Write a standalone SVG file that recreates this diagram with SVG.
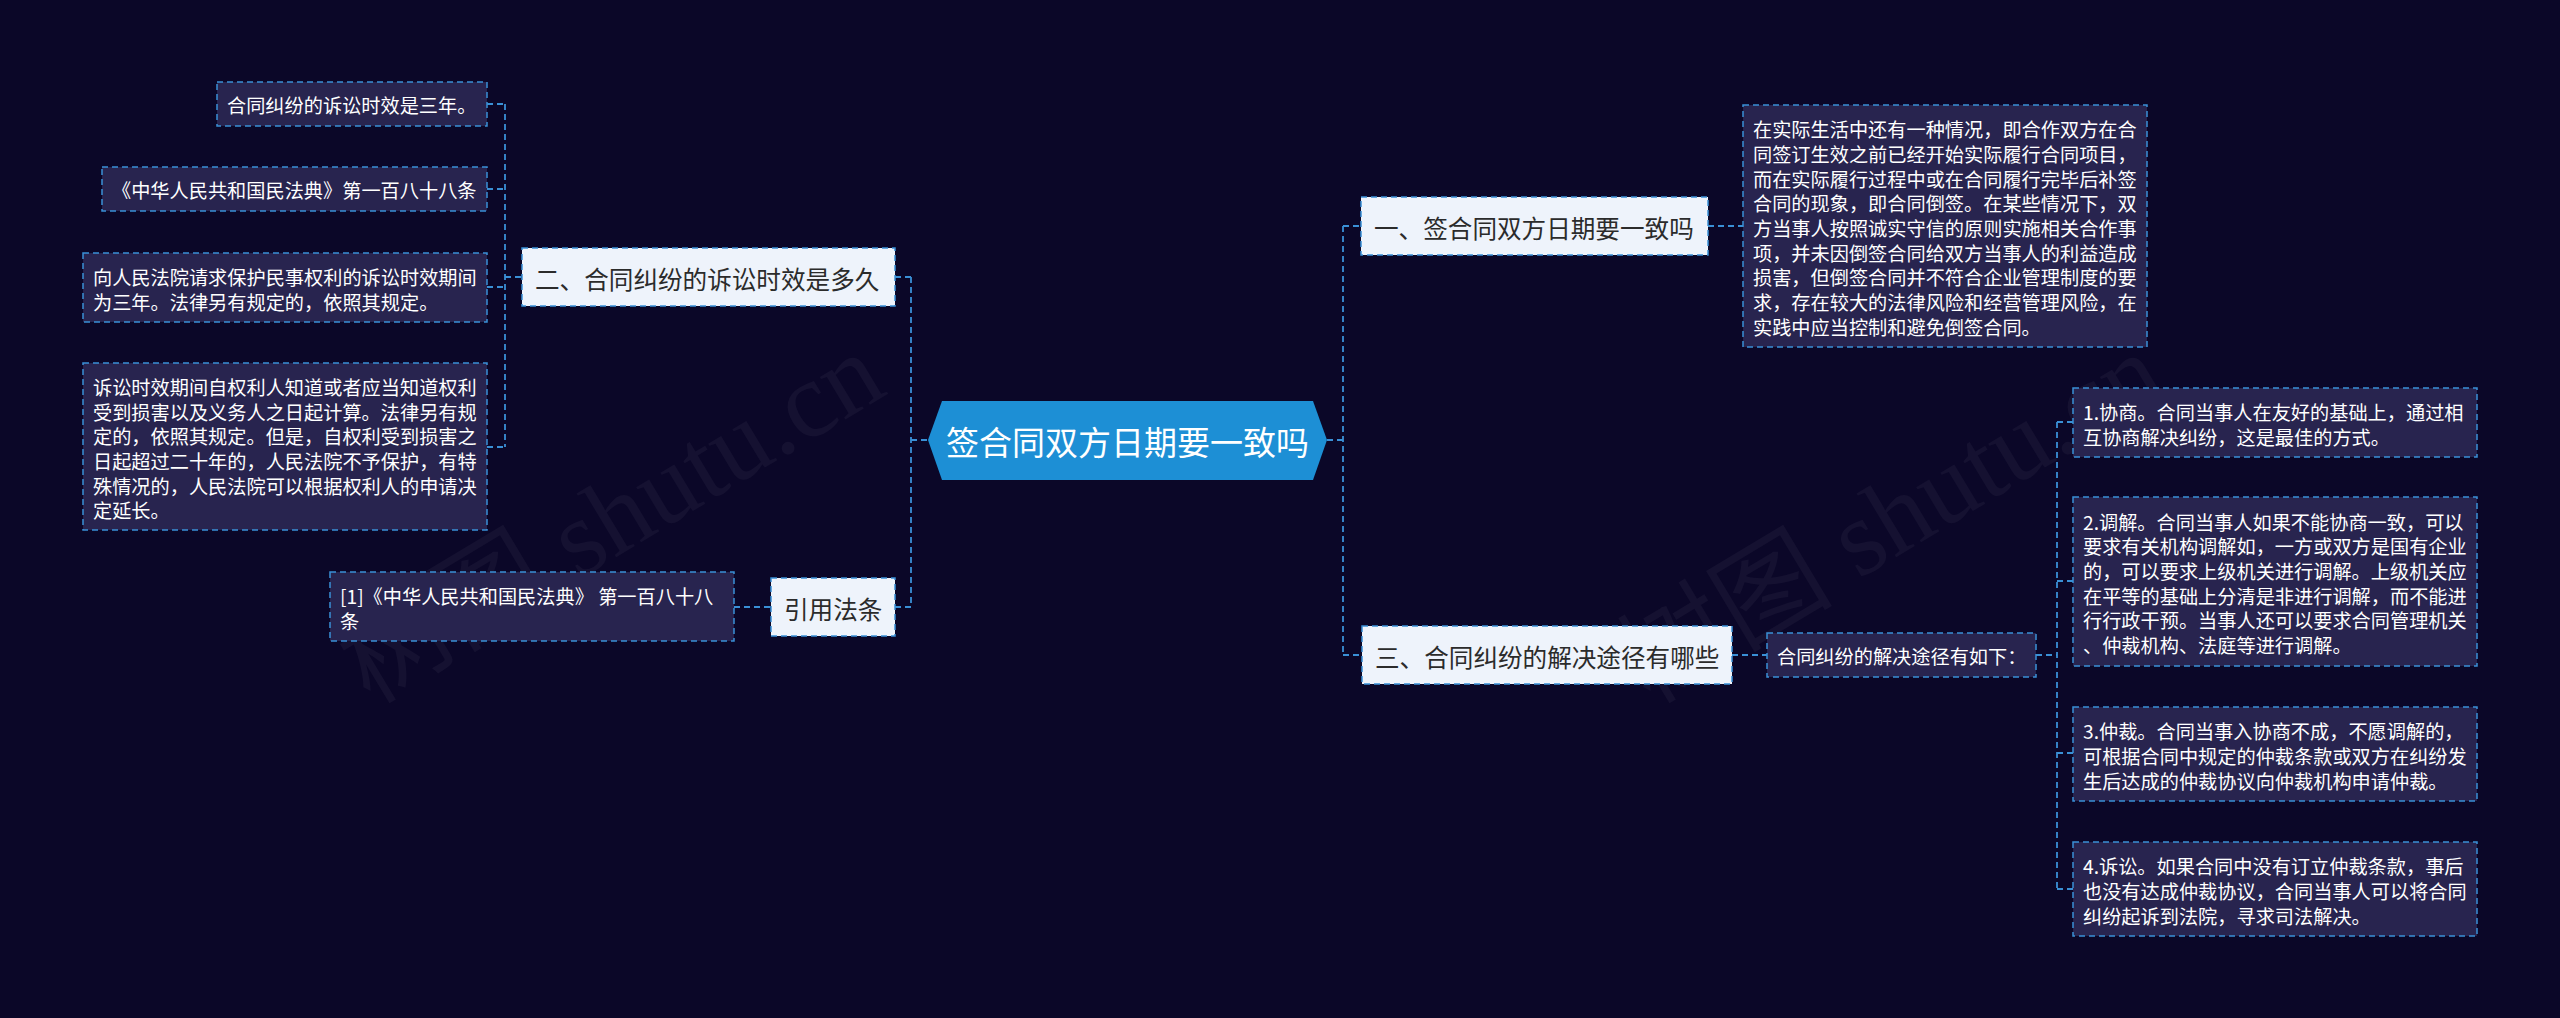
<svg xmlns="http://www.w3.org/2000/svg" width="2560" height="1018" viewBox="0 0 2560 1018">
<style>
.bg{fill:#0b0728}
.wm{font-family:"Liberation Serif","Noto Sans CJK SC",serif;font-size:108px;fill:#ffffff;fill-opacity:0.045}
.leaf rect{fill:#28244f;stroke:#3a90d6;stroke-width:1.5;stroke-dasharray:6 4}
.leaf text{font-family:"Noto Sans CJK SC","Noto Sans",sans-serif;font-size:19.2px;fill:#ffffff;dominant-baseline:central}
.l1 rect{fill:#eef3fb;stroke:#3a90d6;stroke-width:1.5;stroke-dasharray:6 4}
.l1 text{font-family:"Noto Sans CJK SC","Noto Sans",sans-serif;font-size:24.6px;fill:#2b2b2b;dominant-baseline:central}
.root polygon{fill:#1d8fd5}
.root text{font-family:"Noto Sans CJK SC","Noto Sans",sans-serif;font-size:33px;fill:#ffffff;dominant-baseline:central;text-anchor:middle}
.conn path{fill:none;stroke:#3a90d6;stroke-width:1.8;stroke-dasharray:6 4}
</style>
<rect class="bg" x="0" y="0" width="2560" height="1018"/>
<text class="wm" transform="translate(370,705) rotate(-31)">树图 shutu.cn</text>
<text class="wm" transform="translate(1650,705) rotate(-31)">树图 shutu.cn</text>

<g class="conn" id="connectors">
<path d="M911,440 H928"/>
<path d="M911,277 V607"/>
<path d="M895,277 H911"/>
<path d="M895,607 H911"/>
<path d="M505,277 H522"/>
<path d="M505,104 V447"/>
<path d="M487,104 H505"/>
<path d="M487,189 H505"/>
<path d="M487,287 H505"/>
<path d="M487,447 H505"/>
<path d="M734,607 H771"/>
<path d="M1327,440 H1343"/>
<path d="M1343,226 V655"/>
<path d="M1343,226 H1361"/>
<path d="M1343,655 H1362"/>
<path d="M1708,226 H1743"/>
<path d="M1732,655 H1767"/>
<path d="M2036,655 H2057"/>
<path d="M2057,422 V889"/>
<path d="M2057,422 H2073"/>
<path d="M2057,581 H2073"/>
<path d="M2057,753 H2073"/>
<path d="M2057,889 H2073"/>
</g>

<g class="root" id="root">
<polygon points="928,440 942,401 1313,401 1327,440 1313,480 942,480"/>
<text x="1127.5" y="441">签合同双方日期要一致吗</text>
</g>

<g class="l1" id="n-er">
<rect x="522" y="248" width="373" height="58"/>
<text x="535" y="278">二、合同纠纷的诉讼时效是多久</text>
</g>
<g class="l1" id="n-yinyong">
<rect x="771" y="578" width="124" height="58"/>
<text x="784" y="608">引用法条</text>
</g>
<g class="l1" id="n-yi">
<rect x="1361" y="197" width="347" height="58"/>
<text x="1374" y="227">一、签合同双方日期要一致吗</text>
</g>
<g class="l1" id="n-san">
<rect x="1362" y="626" width="370" height="58"/>
<text x="1375" y="656">三、合同纠纷的解决途径有哪些</text>
</g>

<g class="leaf" id="n-l1">
<rect x="217" y="82" width="270" height="44"/>
<text x="227" y="105">合同纠纷的诉讼时效是三年。</text>
</g>
<g class="leaf" id="n-l2">
<rect x="102" y="167" width="385" height="44"/>
<text x="112" y="190">《中华人民共和国民法典》第一百八十八条</text>
</g>
<g class="leaf" id="n-l3">
<rect x="83" y="253" width="404" height="69"/>
<text x="93" y="277.2">向人民法院请求保护民事权利的诉讼时效期间</text>
<text x="93" y="301.9">为三年。法律另有规定的，依照其规定。</text>
</g>
<g class="leaf" id="n-l4">
<rect x="83" y="363" width="404" height="167"/>
<text x="93" y="386.8">诉讼时效期间自权利人知道或者应当知道权利</text>
<text x="93" y="411.5">受到损害以及义务人之日起计算。法律另有规</text>
<text x="93" y="436.2">定的，依照其规定。但是，自权利受到损害之</text>
<text x="93" y="460.9">日起超过二十年的，人民法院不予保护，有特</text>
<text x="93" y="485.6">殊情况的，人民法院可以根据权利人的申请决</text>
<text x="93" y="510.3">定延长。</text>
</g>
<g class="leaf" id="n-ref">
<rect x="330" y="572" width="404" height="69"/>
<text x="340" y="596.2">[1]《中华人民共和国民法典》 第一百八十八</text>
<text x="340" y="620.9">条</text>
</g>

<g class="leaf" id="n-r0">
<rect x="1743" y="105" width="404" height="242"/>
<text x="1753" y="129.2">在实际生活中还有一种情况，即合作双方在合</text>
<text x="1753" y="153.9">同签订生效之前已经开始实际履行合同项目，</text>
<text x="1753" y="178.6">而在实际履行过程中或在合同履行完毕后补签</text>
<text x="1753" y="203.3">合同的现象，即合同倒签。在某些情况下，双</text>
<text x="1753" y="228.0">方当事人按照诚实守信的原则实施相关合作事</text>
<text x="1753" y="252.7">项，并未因倒签合同给双方当事人的利益造成</text>
<text x="1753" y="277.4">损害，但倒签合同并不符合企业管理制度的要</text>
<text x="1753" y="302.1">求，存在较大的法律风险和经营管理风险，在</text>
<text x="1753" y="326.8">实践中应当控制和避免倒签合同。</text>
</g>
<g class="leaf" id="n-ruxia">
<rect x="1767" y="633" width="269" height="44"/>
<text x="1777" y="656">合同纠纷的解决途径有如下：</text>
</g>
<g class="leaf" id="n-r1">
<rect x="2073" y="388" width="404" height="69"/>
<text x="2083" y="412.2">1.协商。合同当事人在友好的基础上，通过相</text>
<text x="2083" y="436.9">互协商解决纠纷，这是最佳的方式。</text>
</g>
<g class="leaf" id="n-r2">
<rect x="2073" y="497" width="404" height="169"/>
<text x="2083" y="521.5">2.调解。合同当事人如果不能协商一致，可以</text>
<text x="2083" y="546.2">要求有关机构调解如，一方或双方是国有企业</text>
<text x="2083" y="570.9">的，可以要求上级机关进行调解。上级机关应</text>
<text x="2083" y="595.6">在平等的基础上分清是非进行调解，而不能进</text>
<text x="2083" y="620.3">行行政干预。当事人还可以要求合同管理机关</text>
<text x="2083" y="645.0">、仲裁机构、法庭等进行调解。</text>
</g>
<g class="leaf" id="n-r3">
<rect x="2073" y="707" width="404" height="94"/>
<text x="2083" y="731.3">3.仲裁。合同当事入协商不成，不愿调解的，</text>
<text x="2083" y="756.0">可根据合同中规定的仲裁条款或双方在纠纷发</text>
<text x="2083" y="780.7">生后达成的仲裁协议向仲裁机构申请仲裁。</text>
</g>
<g class="leaf" id="n-r4">
<rect x="2073" y="842" width="404" height="94"/>
<text x="2083" y="866.3">4.诉讼。如果合同中没有订立仲裁条款，事后</text>
<text x="2083" y="891.0">也没有达成仲裁协议，合同当事人可以将合同</text>
<text x="2083" y="915.7">纠纷起诉到法院，寻求司法解决。</text>
</g>
</svg>
